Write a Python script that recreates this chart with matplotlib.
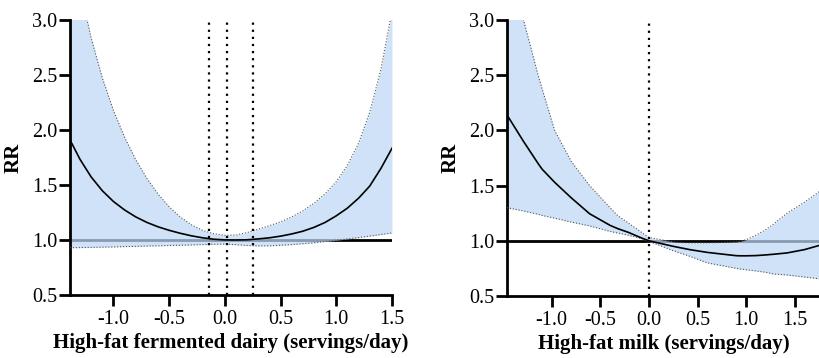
import numpy as np
import matplotlib.pyplot as plt

plt.rcParams['font.family'] = ['Liberation Serif', 'DejaVu Serif']
plt.rcParams['axes.unicode_minus'] = False

# left panel: high-fat fermented dairy
x_ferm = [-1.39, -1.3, -1.2, -1.1, -1.0, -0.9, -0.8, -0.7, -0.6, -0.5, -0.4, -0.3, -0.2, -0.1,
          0.0, 0.1, 0.2, 0.3, 0.4, 0.5, 0.6, 0.7, 0.8, 0.9, 1.0, 1.1, 1.2, 1.3, 1.4, 1.5]
rr_ferm = [1.91, 1.733, 1.573, 1.448, 1.35, 1.273, 1.21, 1.16, 1.12, 1.088, 1.061, 1.038, 1.02, 1.007,
           1.001, 1.0, 1.002, 1.01, 1.02, 1.035, 1.055, 1.08, 1.115, 1.16, 1.22, 1.29, 1.38, 1.49, 1.65, 1.834]
hi_ferm = [3.77, 3.283, 2.836, 2.473, 2.177, 1.934, 1.73, 1.56, 1.418, 1.301, 1.209, 1.138, 1.088, 1.057,
           1.042, 1.045, 1.068, 1.098, 1.13, 1.165, 1.21, 1.265, 1.335, 1.42, 1.53, 1.68, 1.88, 2.16, 2.55, 3.08]
lo_ferm = [0.93, 0.931, 0.933, 0.935, 0.937, 0.94, 0.942, 0.945, 0.947, 0.95, 0.952, 0.955, 0.958, 0.961,
           0.963, 0.957, 0.95, 0.946, 0.947, 0.952, 0.958, 0.966, 0.975, 0.986, 0.998, 1.01, 1.022, 1.035, 1.05, 1.064]
vlines_ferm = [-0.145, 0.02, 0.25]

# right panel: high-fat milk
x_milk = [-1.46, -1.29, -1.14, -1.1, -0.97, -0.8, -0.61, -0.4, -0.32, -0.21, -0.075, 0.0,
          0.25, 0.42, 0.6, 0.9, 0.94, 1.0, 1.1, 1.2, 1.28, 1.42, 1.6, 1.76]
rr_milk = [2.14, 1.90, 1.70, 1.65, 1.53, 1.39, 1.245, 1.14, 1.11, 1.076, 1.025, 1.0,
           0.95, 0.92, 0.895, 0.865, 0.864, 0.864, 0.866, 0.872, 0.878, 0.89, 0.92, 0.96]
hi_milk = [3.8, 3.0, 2.5, 2.38, 2.0, 1.72, 1.5, 1.3, 1.227, 1.16, 1.076, 1.03,
           0.99, 0.98, 0.98, 0.99, 0.995, 1.01, 1.05, 1.1, 1.15, 1.25, 1.35, 1.45]
lo_milk = [1.30, 1.27, 1.24, 1.23, 1.205, 1.17, 1.135, 1.085, 1.07, 1.05, 1.02, 0.995,
           0.91, 0.86, 0.80, 0.75, 0.745, 0.738, 0.727, 0.715, 0.70, 0.69, 0.672, 0.655]
vlines_milk = [0.0]

yticks = [0.5, 1.0, 1.5, 2.0, 2.5, 3.0]
xticks = [-1.0, -0.5, 0.0, 0.5, 1.0, 1.5]

fill_col = '#bdd7f6'

fig = plt.figure(figsize=(8.2, 3.58), dpi=100)
ax1 = fig.add_axes([70/820, 63/358, 322/820, 275/358])
ax2 = fig.add_axes([507/820, 62/358, 313/820, 276/358])


def panel(ax, x, rr, hi, lo, vl, xlim, xlabel):
    ax.axhline(1.0, color='black', lw=2, zorder=1)
    ax.fill_between(x, lo, hi, color=fill_col, alpha=0.72, lw=0, zorder=2)
    ax.plot(x, hi, color='#555555', lw=0.8, ls=':', zorder=3)
    ax.plot(x, lo, color='#555555', lw=0.8, ls=':', zorder=3)
    ax.plot(x, rr, color='black', lw=1.2, zorder=4)
    for v in vl:
        ax.axvline(v, color='black', lw=1.6, ls=(0, (1, 2.2)), zorder=5)
    ax.set_xlim(xlim)
    ax.set_ylim(0.5, 3.0)
    ax.set_yticks(yticks)
    ax.set_yticklabels(['%.1f' % t for t in yticks])
    ax.set_xticks(xticks)
    ax.set_xticklabels(['%.1f' % t for t in xticks])
    for s in ['top', 'right']:
        ax.spines[s].set_visible(False)
    for s in ['left', 'bottom']:
        ax.spines[s].set_linewidth(2)
    ax.tick_params(axis='both', width=2, length=8, labelsize=14.5)
    ax.tick_params(axis='x', pad=3)
    ax.tick_params(axis='y', pad=1)
    ax.set_xlabel(xlabel, fontsize=15, fontweight='bold', labelpad=3)
    ax.set_ylabel('RR', fontsize=15, fontweight='bold', labelpad=6)


panel(ax1, x_ferm, rr_ferm, hi_ferm, lo_ferm, vlines_ferm, (-1.39, 1.5),
      'High-fat fermented dairy (servings/day)')
panel(ax2, x_milk, rr_milk, hi_milk, lo_milk, vlines_milk, (-1.46, 1.76),
      'High-fat milk (servings/day)')

fig.savefig('out.png', dpi=100)
